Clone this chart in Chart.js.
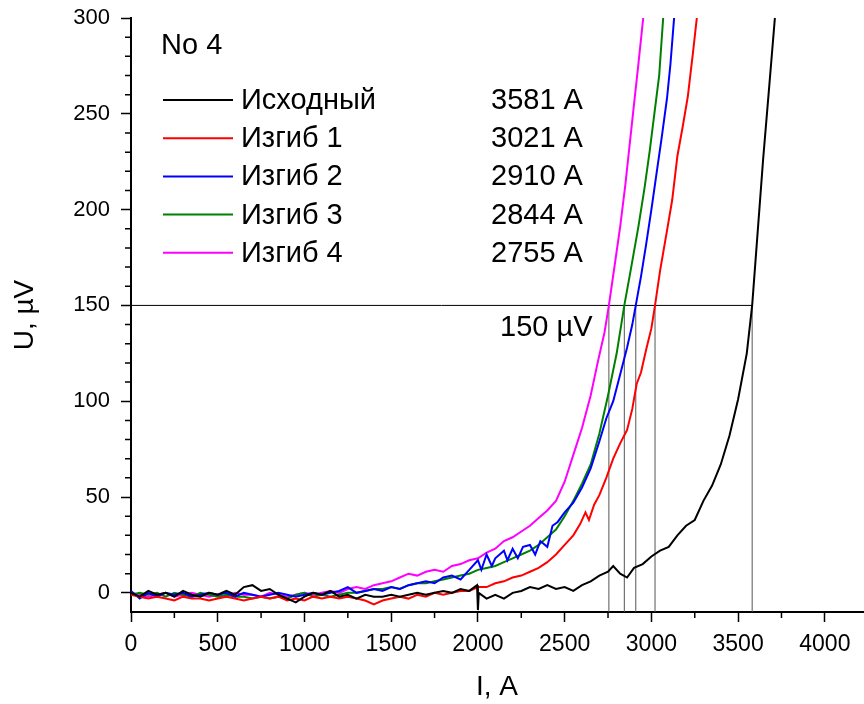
<!DOCTYPE html>
<html>
<head>
<meta charset="utf-8">
<title>No 4</title>
<script src="https://cdn.jsdelivr.net/npm/chart.js@4.4.0/dist/chart.umd.min.js"></script>
<style>
  html, body { margin: 0; padding: 0; background: #fff; }
  canvas { display: block; }
</style>
</head>
<body>
<canvas id="chart" width="864" height="704"></canvas>
<script>
/**
 * Series names and critical currents (legend)
 */
const sampleName = 'No 4';
const seriesNames = ['Исходный', 'Изгиб 1', 'Изгиб 2', 'Изгиб 3', 'Изгиб 4'];
const critCurrents = [3581, 3021, 2910, 2844, 2755];
const critLevel = 150;

/**
 * Axis ticks
 */
const xTicks = [0, 500, 1000, 1500, 2000, 2500, 3000, 3500, 4000];
const yTicks = [0, 50, 100, 150, 200, 250, 300];

/**
 * Curves: current I (A) and voltage U (uV)
 */
const iBlack = [0,50,100,150,200,250,300,350,400,450,500,550,600,650,700,750,800,850,900,950,
  1000,1050,1100,1150,1200,1250,1300,1350,1400,1450,1500,1550,1600,1650,1700,1750,1800,1850,1900,1950,
  1980,1995,2000,2005,2050,2100,2150,2200,2250,2300,2350,2400,2450,2500,2550,2600,2650,2700,2750,2780,
  2820,2860,2900,2950,3000,3050,3100,3150,3200,3250,3300,3350,3400,3450,3500,3550,3581,3610,3644,3680,3712];
const uBlack = [0,-2,1,-1,0,-2,1,-1,-2,0,-1,1,-1,3,4,1,2,-1,-3,-5,
  -2,0,-1,1,-2,-1,-3,-1,-2,-2,-1,-2,-1,0,-1,0,1,0,2,1,
  3,4,-9,0,-3,-1,-3,0,1,3,2,4,2,3,1,4,6,9,11,14,
  10,8,13,15,19,22,24,30,35,38,48,56,67,82,101,125,150,185,226,265,300];

const iRed = [0,50,100,150,200,250,300,350,400,450,500,550,600,650,700,750,800,850,900,950,
  1000,1050,1100,1150,1200,1250,1300,1350,1400,1450,1500,1550,1600,1650,1700,1750,1800,1850,1900,1950,
  2000,2050,2100,2150,2200,2250,2300,2350,2400,2450,2500,2550,2590,2620,2640,2670,2700,2740,2780,2820,
  2860,2890,2915,2940,2970,3000,3021,3050,3090,3120,3150,3180,3210,3240,3262];
const uRed = [-1,-2,-3,-2,-3,-4,-2,-3,-3,-4,-3,-2,-3,-4,-3,-2,-3,-2,-4,-3,
  -4,-2,-3,-2,-3,-2,-3,-4,-6,-4,-3,-2,-3,-1,-2,0,-1,0,1,1,
  3,3,5,6,8,9,11,13,16,20,25,30,36,42,38,46,51,60,70,78,
  85,96,109,115,127,138,150,168,189,205,228,243,259,282,300];

const iBlue = [0,50,100,150,200,250,300,350,400,450,500,550,600,650,700,750,800,850,900,950,
  1000,1050,1100,1150,1200,1250,1300,1350,1400,1450,1500,1550,1600,1650,1700,1750,1800,1850,1900,1950,
  2000,2020,2050,2080,2100,2150,2170,2200,2230,2260,2300,2330,2360,2400,2430,2460,2500,2550,2600,2650,
  2700,2740,2780,2820,2860,2890,2910,2940,2970,3000,3030,3060,3090,3110,3131];
const uBlue = [1,-3,0,-2,0,-1,0,-2,-1,0,-1,0,-2,0,-1,-2,-1,0,-1,-2,
  -1,0,-1,0,1,3,0,1,2,1,3,2,4,5,6,5,8,9,7,12,
  17,12,20,14,18,22,17,23,18,24,25,20,27,24,35,37,42,47,55,65,
  79,91,100,114,128,140,150,165,182,200,219,238,258,276,300];

const iGreen = [0,50,100,150,200,250,300,350,400,450,500,550,600,650,700,750,800,850,900,950,
  1000,1050,1100,1150,1200,1250,1300,1350,1400,1450,1500,1550,1600,1650,1700,1750,1800,1850,1900,1950,
  2000,2050,2100,2150,2200,2250,2300,2350,2400,2450,2500,2550,2600,2650,2700,2750,2800,2844,2880,2925,
  2960,2991,3020,3045,3068];
const uGreen = [-1,0,-1,0,-2,0,-1,-2,0,-1,-2,-1,-2,-2,-3,-2,-3,-2,-3,-1,
  0,-2,-1,-2,-1,0,0,1,2,2,3,2,4,5,5,6,7,8,9,10,
  12,13,14,16,18,20,22,25,29,33,40,48,57,67,83,103,125,150,168,191,
  211,231,252,270,300];

const iMagenta = [0,50,100,150,200,250,300,350,400,450,500,550,600,650,700,750,800,850,900,950,
  1000,1050,1100,1150,1200,1250,1300,1350,1400,1450,1500,1550,1600,1650,1700,1750,1800,1850,1900,1950,
  2000,2050,2100,2150,2200,2250,2300,2350,2400,2450,2500,2550,2600,2650,2690,2730,2755,2790,2820,2850,
  2876,2900,2924,2953];
const uMagenta = [0,-1,-2,-1,0,-2,-1,0,-1,-2,-1,-2,0,-1,-1,-2,0,-1,-2,-1,
  0,-1,0,1,0,2,3,2,4,5,6,8,10,9,11,12,11,14,15,17,
  18,21,23,27,29,32,35,39,43,48,58,72,86,103,120,136,150,172,191,213,
  235,255,275,300];

/**
 * Styles
 */
const fontFamily = '"Liberation Sans", Arial, sans-serif';
const colors = ['#000000', '#ff0000', '#0000ff', '#008000', '#ff00ff'];

const curves = [[iBlack, uBlack], [iRed, uRed], [iBlue, uBlue], [iGreen, uGreen], [iMagenta, uMagenta]];

//zip current / voltage arrays to points
function toPoints(xs, ys) {
    return xs.map((v, k) => ({x: v, y: ys[k]}));
}

const datasets = curves.map((c, k) => ({
    label: seriesNames[k],
    data: toPoints(c[0], c[1]),
    borderColor: colors[k],
    borderWidth: 2,
    pointRadius: 0,
    tension: 0,
}));

//150 uV level line and the verticals down to the axis
datasets.push({
    label: 'level',
    data: [{x: 0, y: critLevel}, {x: Math.max(...critCurrents), y: critLevel}],
    borderColor: '#000',
    borderWidth: 1,
    pointRadius: 0,
});
critCurrents.forEach((ic) => {
    datasets.push({
        label: 'ic',
        data: [{x: ic, y: -10}, {x: ic, y: critLevel}],
        borderColor: '#555',
        borderWidth: 1,
        pointRadius: 0,
    });
});

/**
 * Minor ticks (Chart.js has no minor ticks on linear scales)
 */
const minorTicks = {
    id: 'minorTicks',
    afterDraw(chart) {
        const {ctx, chartArea} = chart;
        const xs = chart.scales.x;
        const ys = chart.scales.y;
        ctx.save();
        ctx.strokeStyle = '#000';
        ctx.lineWidth = 1.5;
        ctx.beginPath();
        for (let v = 250; v <= xs.max; v += 500) {
            const px = xs.getPixelForValue(v);
            ctx.moveTo(px, chartArea.bottom);
            ctx.lineTo(px, chartArea.bottom + 6);
        }
        for (let v = 10; v <= ys.max; v += 10) {
            if (v % 50 === 0) continue;
            const py = ys.getPixelForValue(v);
            ctx.moveTo(chartArea.left - 6, py);
            ctx.lineTo(chartArea.left, py);
        }
        ctx.stroke();
        ctx.restore();
    }
};

/**
 * Legend block and the "150 uV" note
 */
const legendBlock = {
    id: 'legendBlock',
    afterDraw(chart) {
        const {ctx, chartArea} = chart;
        const ys = chart.scales.y;
        const x0 = chartArea.left + 32;
        ctx.save();
        ctx.fillStyle = '#000';
        ctx.font = '29px ' + fontFamily;
        ctx.textBaseline = 'middle';
        ctx.textAlign = 'left';
        ctx.fillText(sampleName, x0 - 2, 46);
        seriesNames.forEach((name, k) => {
            const y = 100 + k * 38.2;
            ctx.strokeStyle = colors[k];
            ctx.lineWidth = 2;
            ctx.beginPath();
            ctx.moveTo(x0, y);
            ctx.lineTo(x0 + 70, y);
            ctx.stroke();
            ctx.fillText(name, x0 + 78, y + 1);
            ctx.fillText(critCurrents[k] + ' A', x0 + 328, y + 1);
        });
        ctx.fillText('150 µV', 500, ys.getPixelForValue(critLevel) + 23);
        ctx.restore();
    }
};

Chart.defaults.font.family = fontFamily;
Chart.defaults.color = '#000';

const ctx = document.getElementById('chart').getContext('2d');
new Chart(ctx, {
    type: 'line',
    data: {datasets: datasets},
    options: {
        responsive: false,
        animation: false,
        layout: {padding: {top: 18, right: 1, left: 0, bottom: 0}},
        plugins: {
            legend: {display: false},
            tooltip: {enabled: false},
        },
        scales: {
            x: {
                type: 'linear',
                min: 0,
                max: 4220,
                afterFit: (s) => { s.height = 92; s.paddingLeft = 0; s.paddingRight = 0; },
                afterBuildTicks: (s) => { s.ticks = xTicks.map((v) => ({value: v})); },
                border: {display: true, color: '#000', width: 2},
                grid: {drawOnChartArea: false, drawTicks: true, tickLength: 10, tickColor: '#000', tickWidth: 1.5},
                ticks: {maxRotation: 0, autoSkip: false, padding: 9, font: {size: 23}, callback: (v) => String(v)},
                title: {display: true, text: 'I, A', font: {size: 28}, padding: {top: 0, bottom: 0}},
            },
            y: {
                type: 'linear',
                min: -10,
                max: 300,
                afterFit: (s) => { s.width = 131; s.paddingTop = 0; s.paddingBottom = 0; },
                afterBuildTicks: (s) => { s.ticks = yTicks.map((v) => ({value: v})); },
                border: {display: true, color: '#000', width: 2},
                grid: {drawOnChartArea: false, drawTicks: true, tickLength: 10, tickColor: '#000', tickWidth: 1.5},
                ticks: {autoSkip: false, padding: 11, font: {size: 22}, callback: (v) => String(v)},
                title: {display: true, text: 'U, µV', font: {size: 28}, padding: {top: 8, bottom: 0}},
            }
        }
    },
    plugins: [minorTicks, legendBlock]
});
</script>
</body>
</html>
